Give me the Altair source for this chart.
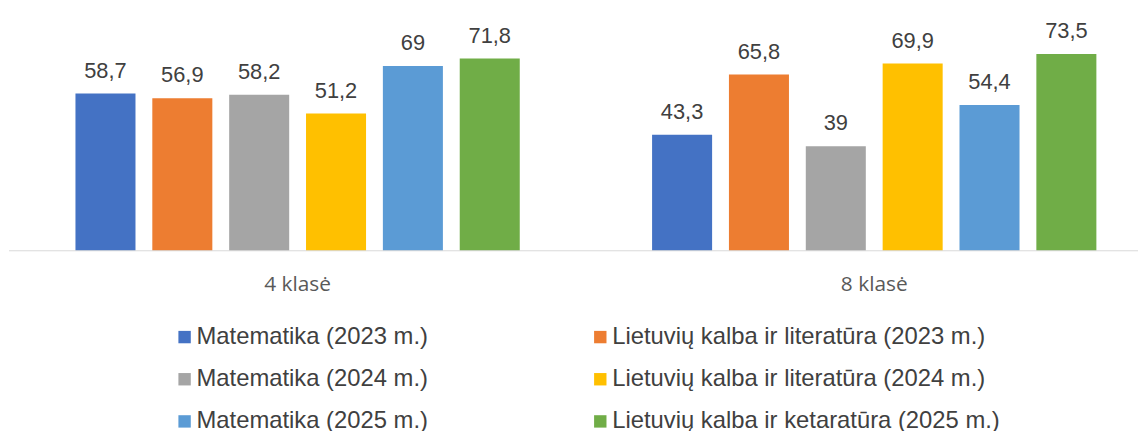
import altair as alt
import pandas as pd

groups = ["4 klasė", "8 klasė"]
series = [
    "Matematika (2023 m.)",
    "Lietuvių kalba ir literatūra (2023 m.)",
    "Matematika (2024 m.)",
    "Lietuvių kalba ir literatūra (2024 m.)",
    "Matematika (2025 m.)",
    "Lietuvių kalba ir ketaratūra (2025 m.)",
]
values_4 = [58.7, 56.9, 58.2, 51.2, 69, 71.8]
values_8 = [43.3, 65.8, 39, 69.9, 54.4, 73.5]
colors = ["#4472C4", "#ED7D31", "#A5A5A5", "#FFC000", "#5B9BD5", "#70AD47"]

# legend is filled column by column: list entries in that order
legend_order = [0, 2, 4, 1, 3, 5]
legend_series = [series[i] for i in legend_order]
legend_colors = [colors[i] for i in legend_order]

rows = []
for g, vals in zip(groups, [values_4, values_8]):
    for s, v in zip(series, vals):
        rows.append({"group": g, "series": s, "value": v,
                     "label": f"{v:g}".replace(".", ",")})
df = pd.DataFrame(rows)

base = alt.Chart(df).encode(
    x=alt.X("group:N", sort=groups,
            scale=alt.Scale(paddingInner=0.2003, paddingOuter=0.08, align=0.64),
            axis=alt.Axis(title=None, domain=False, ticks=False, tickSize=0,
                          labelFont="Open Sans", labelFontSize=21, labelColor="#595959",
                          labelPadding=40, labelBaseline="alphabetic", labelAngle=0)),
    xOffset=alt.XOffset("series:N", sort=series,
                        scale=alt.Scale(paddingInner=0.219, paddingOuter=0.1095)),
    y=alt.Y("value:Q", scale=alt.Scale(domain=[0, 90]), axis=None),
)

bars = base.mark_bar().encode(
    color=alt.Color("series:N",
                    scale=alt.Scale(domain=legend_series, range=legend_colors),
                    legend=alt.Legend(orient="none", legendX=166, legendY=318,
                                      columns=2, symbolType="square", symbolSize=156,
                                      symbolStrokeWidth=0, labelFont="Liberation Sans",
                                      labelFontSize=24, labelColor="#404040",
                                      labelOffset=0, rowPadding=18.5, columnPadding=161,
                                      title=None, labelLimit=600, padding=0,
                                      gridAlign="each"))
)

rule = alt.Chart(pd.DataFrame({"v": [0]})).mark_rule(color="#D9D9D9", strokeWidth=1).encode(
    y=alt.Y("v:Q", axis=None),
    x=alt.value(1),
    x2=alt.value(1139),
)

text = base.mark_text(font="Liberation Sans", fontSize=22, color="#404040",
                      baseline="alphabetic", dy=-16).encode(text="label:N")

chart = alt.layer(bars, rule, text).properties(
    width=1139, height=243, padding=0
).configure_view(stroke=None)

chart.save("out.html", embed_options={"renderer": "svg", "actions": False})
